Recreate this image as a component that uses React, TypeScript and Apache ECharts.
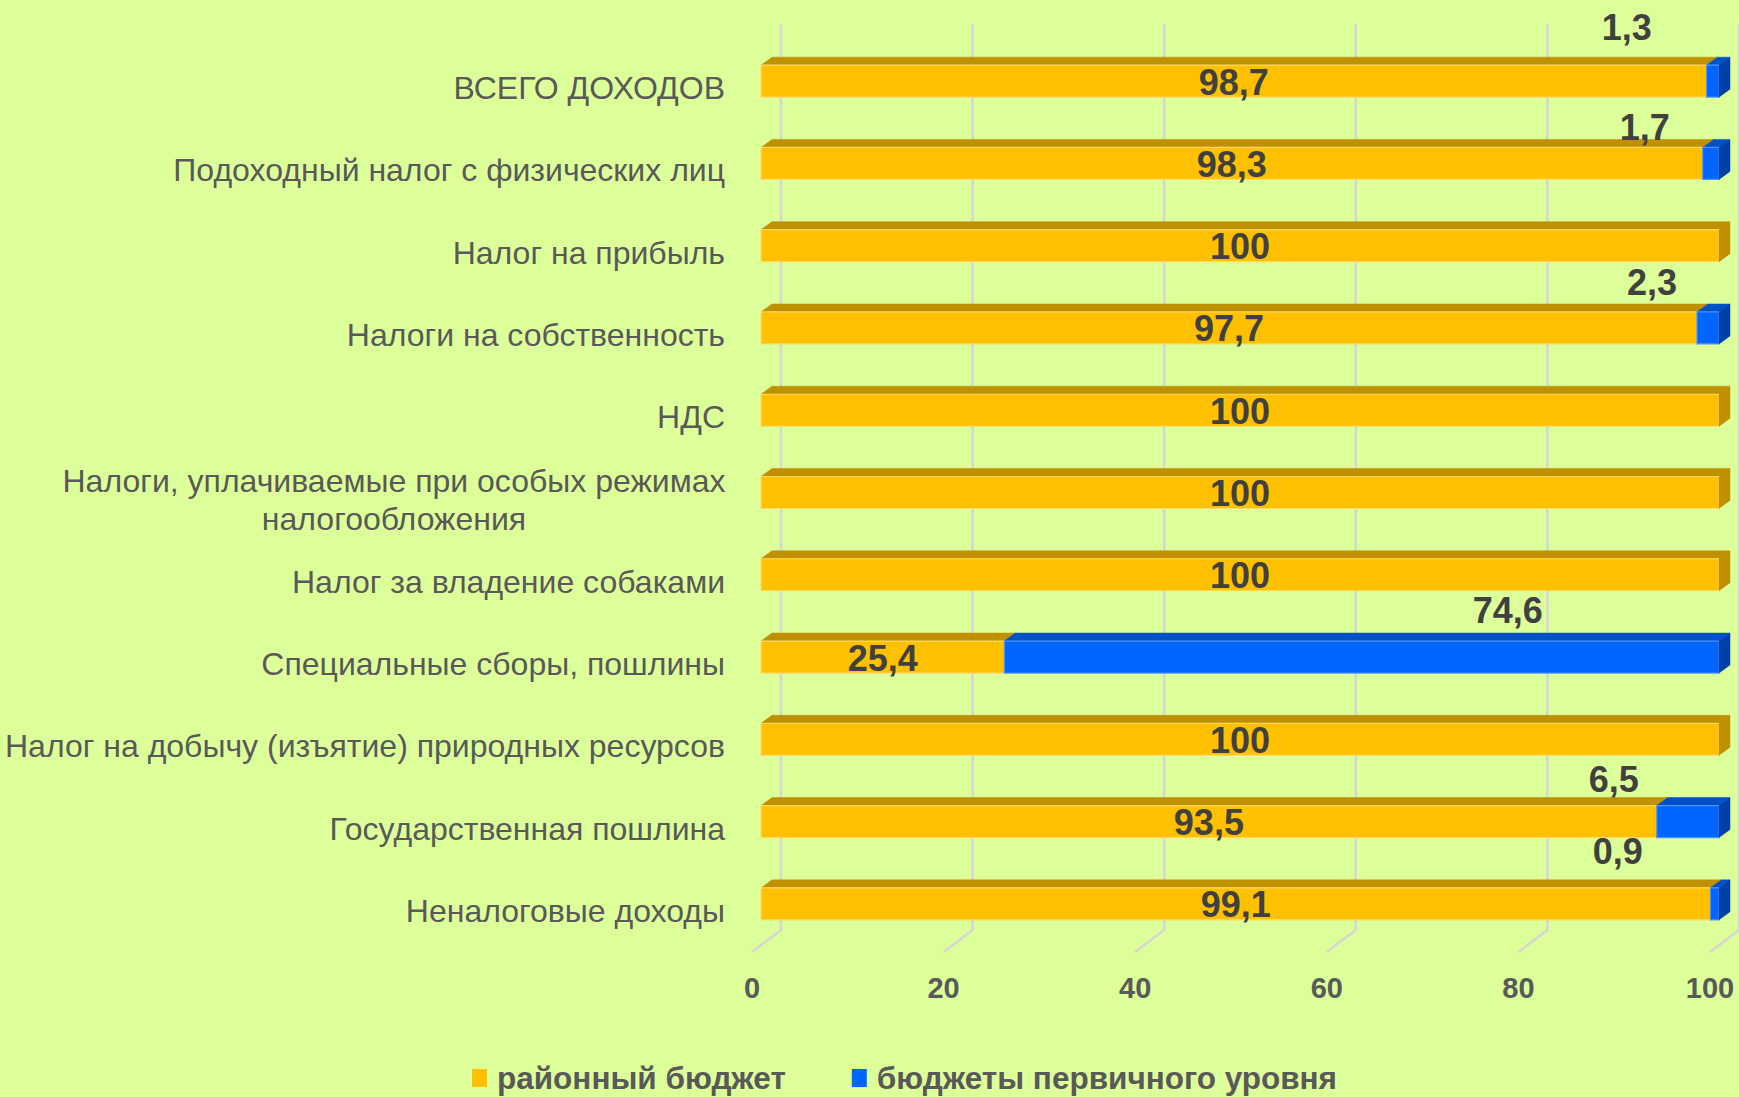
import React, { useEffect, useRef } from "react";
import * as echarts from "echarts";

// ---------- data ----------
const categories = [
  "ВСЕГО ДОХОДОВ",
  "Подоходный налог с физических лиц",
  "Налог на прибыль",
  "Налоги на собственность",
  "НДС",
  "Налоги, уплачиваемые при особых режимах\nналогообложения",
  "Налог за владение собаками",
  "Специальные сборы, пошлины",
  "Налог на добычу (изъятие) природных ресурсов",
  "Государственная пошлина",
  "Неналоговые доходы",
];
const districtBudget = [98.7, 98.3, 100, 97.7, 100, 100, 100, 25.4, 100, 93.5, 99.1];
const primaryBudget = [1.3, 1.7, 0, 2.3, 0, 0, 0, 74.6, 0, 6.5, 0.9];
const xTicks = [0, 20, 40, 60, 80, 100];
const seriesNames = ["районный бюджет", "бюджеты первичного уровня"];

// ---------- styling / layout ----------
const FONT = '"Liberation Sans", Arial, sans-serif';
const BG = "#DDFF99";
const TEXT = "#595959";
const LABEL = "#404040";
const BAR_H = 32;
const DEPTH_DX = 11;
const DEPTH_DY = 8;
const BACK_DX = 20;
const FRONT_DX = -9;
const YELLOW = { front: "#FFC000", top: "#BF9000", side: "#BF9000", edge: "#FFD966" };
const BLUE = { front: "#0066FF", top: "#0050C8", side: "#0040A8", edge: "#4D94FF" };
// manual nudges (px) of the labels of the second series, as placed in the original
const primaryLabelShift: [number, number][] = [
  [-86, -54], [-66, -36], [0, -45], [-56, -45], [0, -45], [0, -45],
  [0, -45], [146, -47], [0, -45], [-74, -42], [-97, -52],
];

const fmt = (v: number) => String(v).replace(".", ",");

function makeBarRender(colors: typeof YELLOW, labelAbove: boolean) {
  return (params: any, api: any) => {
    const cat = api.value(0);
    const s = api.value(1);
    const e = api.value(2);
    const isLast = api.value(3) === 1;
    const val = api.value(4);
    const p0 = api.coord([s, cat]);
    const p1 = api.coord([e, cat]);
    const yTop = p0[1] - BAR_H / 2;
    const yBot = p0[1] + BAR_H / 2;
    const x0 = p0[0];
    const x1 = p1[0];
    const children: any[] = [];
    children.push({
      type: "polygon",
      shape: {
        points: [
          [x0, yTop],
          [x1, yTop],
          [x1 + DEPTH_DX, yTop - DEPTH_DY],
          [x0 + DEPTH_DX, yTop - DEPTH_DY],
        ],
      },
      style: { fill: colors.top, stroke: colors.top, lineWidth: 0.5 },
    });
    children.push({
      type: "rect",
      shape: { x: x0, y: yTop, width: x1 - x0, height: BAR_H },
      style: { fill: colors.front, stroke: colors.edge, lineWidth: 1.2 },
    });
    if (isLast) {
      children.push({
        type: "polygon",
        shape: {
          points: [
            [x1, yTop],
            [x1 + DEPTH_DX, yTop - DEPTH_DY],
            [x1 + DEPTH_DX, yBot - DEPTH_DY],
            [x1, yBot],
          ],
        },
        style: { fill: colors.side, stroke: colors.side, lineWidth: 0.5 },
      });
    }
    let lx = (x0 + x1) / 2;
    let ly = p0[1] + 1;
    if (labelAbove) {
      const sh = primaryLabelShift[cat] || [0, -45];
      lx += sh[0];
      ly = p0[1] + sh[1];
    }
    children.push({
      type: "text",
      x: lx,
      y: ly,
      style: {
        text: fmt(val),
        fill: LABEL,
        font: `bold 36px ${FONT}`,
        align: "center",
        verticalAlign: "middle",
      },
    });
    return { type: "group", children };
  };
}

export default function App() {
  const ref = useRef<HTMLDivElement>(null);
  useEffect(() => {
    document.body.style.margin = "0";
    const chart = echarts.init(ref.current!, null, { renderer: "svg" });

    const yellowData = districtBudget.map((v, i) => [i, 0, v, primaryBudget[i] > 0 ? 0 : 1, v]);
    const blueData = primaryBudget
      .map((v, i) => [i, districtBudget[i], districtBudget[i] + v, 1, v])
      .filter((d) => d[4] > 0);

    const option: any = {
      animation: false,
      backgroundColor: BG,
      grid: [
        { left: 761, right: 20, top: 40, height: 905, outerBoundsMode: "none", containLabel: false },
        { left: 752, right: 29, top: 40, height: 905, outerBoundsMode: "none", containLabel: false },
      ],
      xAxis: [
        { type: "value", gridIndex: 0, min: 0, max: 100, interval: 20, show: false },
        {
          type: "value",
          gridIndex: 1,
          min: 0,
          max: 100,
          interval: 20,
          axisLine: { show: false },
          axisTick: { show: false },
          splitLine: { show: false },
          axisLabel: {
            color: TEXT,
            fontSize: 29,
            fontWeight: "bold",
            fontFamily: FONT,
            margin: 28,
            formatter: (v: number) => (xTicks.includes(v) ? String(v) : ""),
          },
        },
      ],
      yAxis: [
        {
          type: "category",
          gridIndex: 0,
          data: categories,
          inverse: true,
          axisLine: { show: false },
          axisTick: { show: false },
          splitLine: { show: false },
          axisLabel: {
            color: TEXT,
            fontSize: 32,
            fontFamily: FONT,
            margin: 36,
            lineHeight: 38,
            padding: [14, 0, 0, 0],
            formatter: (v: string) =>
              v.includes("\n")
                ? v
                    .split("\n")
                    .map((l) => `{c|${l}}`)
                    .join("\n")
                : v,
            rich: {
              c: {
                width: 662,
                align: "center",
                fontSize: 32,
                lineHeight: 38,
                color: TEXT,
                fontFamily: FONT,
              },
            },
          },
        },
        { type: "category", gridIndex: 1, data: categories, inverse: true, show: false },
      ],
      legend: {
        data: seriesNames,
        left: 467,
        top: 1057,
        icon: "rect",
        itemWidth: 15,
        itemHeight: 18,
        itemGap: 66,
        textStyle: {
          color: TEXT,
          fontSize: 31.5,
          fontWeight: "bold",
          fontFamily: FONT,
          padding: [0, 0, 0, 5],
        },
      },
      series: [
        {
          type: "custom",
          name: "grid",
          xAxisIndex: 0,
          yAxisIndex: 0,
          silent: true,
          z: 1,
          data: xTicks.map((t) => [t, 0]),
          renderItem: (params: any, api: any) => {
            const p = api.coord([api.value(0), 0]);
            const cs = params.coordSys;
            const bottom = cs.y + cs.height;
            const xb = p[0] + BACK_DX;
            return {
              type: "polyline",
              shape: {
                points: [
                  [xb, cs.y - 16],
                  [xb, bottom - 15],
                  [p[0] + FRONT_DX, bottom + 7],
                ],
              },
              style: { stroke: "#D6D6D6", lineWidth: 2.5, fill: "none" },
            };
          },
        },
        {
          type: "custom",
          name: seriesNames[0],
          xAxisIndex: 0,
          yAxisIndex: 0,
          z: 2,
          itemStyle: { color: YELLOW.front },
          data: yellowData,
          renderItem: makeBarRender(YELLOW, false),
        },
        {
          type: "custom",
          name: seriesNames[1],
          xAxisIndex: 0,
          yAxisIndex: 0,
          z: 3,
          itemStyle: { color: BLUE.front },
          data: blueData,
          renderItem: makeBarRender(BLUE, true),
        },
      ],
    };
    chart.setOption(option);
    return () => chart.dispose();
  }, []);
  return <div ref={ref} style={{ width: 1739, height: 1097 }} />;
}
